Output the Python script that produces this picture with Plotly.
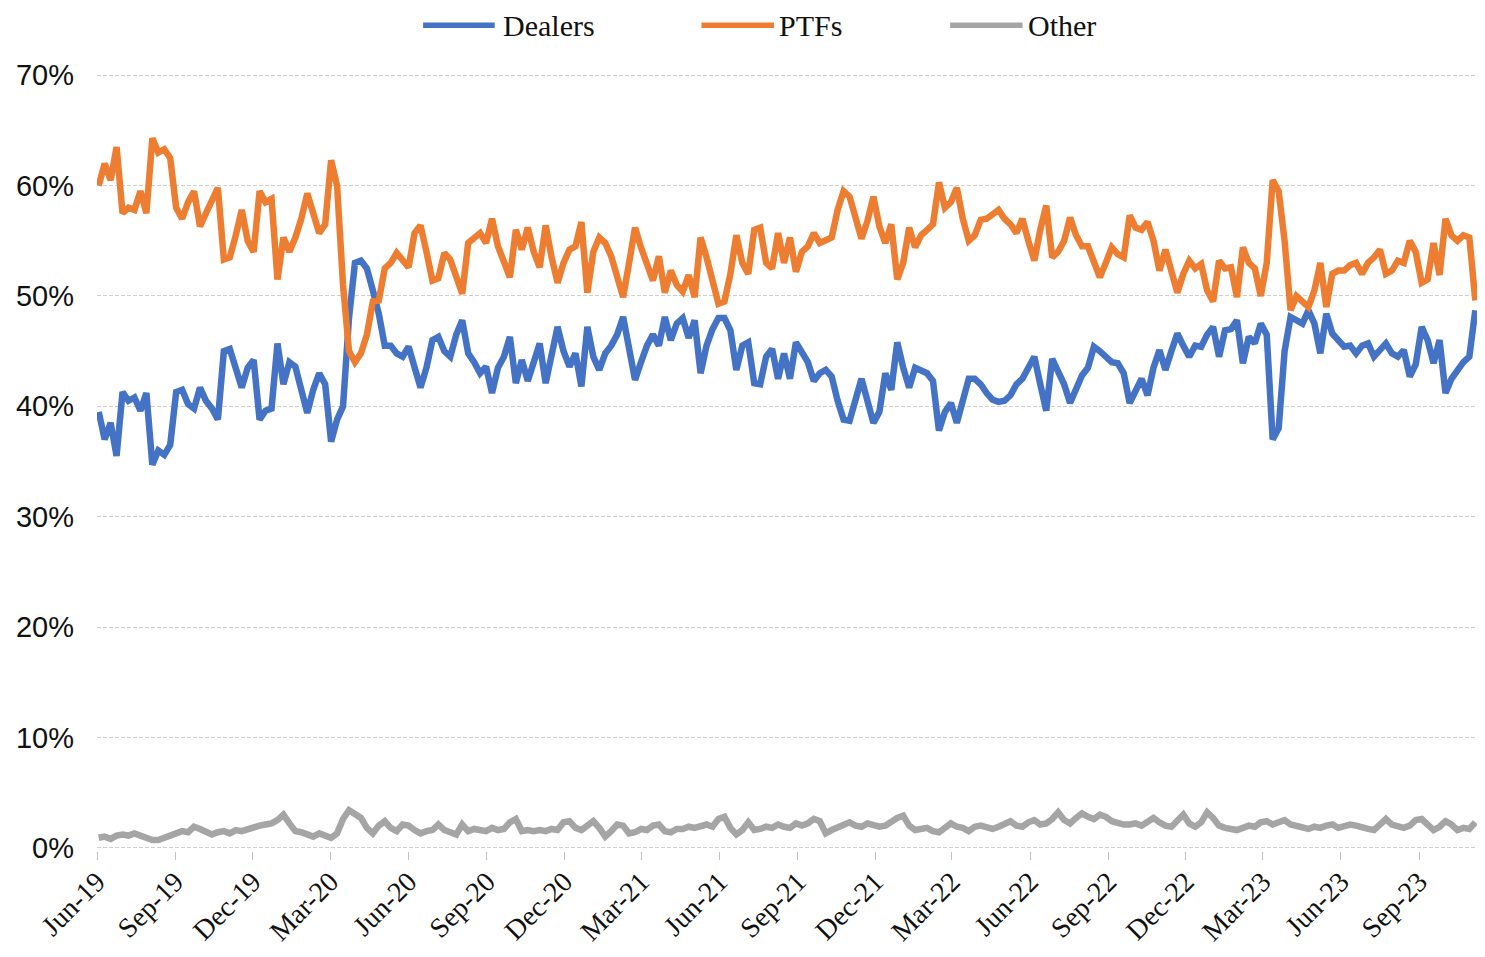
import pandas as pd
import plotly.graph_objects as go

# Weekly observation dates (Mondays) from early June 2019 to early November 2023
dates = pd.date_range("2019-06-03", periods=232, freq="7D")

ptfs = [
    60, 62, 60.5, 63.5, 57.5, 58, 57.8, 59.5, 57.5, 64.3,
    63, 63.3, 62.5, 58, 57, 58.5, 59.5, 56.3, 57.5, 58.5,
    59.8, 53.3, 53.5, 55.5, 57.8, 55, 54, 59.5, 58.5, 58.8,
    51.5, 55.3, 54, 55.3, 57, 59.3, 57.5, 55.7, 56.5, 62.3,
    60, 51, 45, 44, 44.8, 46.5, 49.5, 49.6, 52.5, 53,
    53.9, 53.2, 52.6, 55.7, 56.4, 54, 51.4, 51.6, 53.9, 53.3,
    51.5, 50.2, 54.8, 55.2, 55.7, 54.8, 57, 54.5, 53, 51.7,
    56, 54.2, 56.2, 54, 52.6, 56.4, 53.5, 51.2, 53, 54.2,
    54.5, 56.7, 50.3, 54, 55.3, 54.8, 53.6, 51.5, 49.9, 53,
    56.2, 54.4, 53, 51.4, 53.6, 50.3, 52.3, 51, 50.4, 51.9,
    49.9, 55.3, 53.5, 51.5, 49.3, 49.5, 52, 55.5, 53, 52,
    56, 56.2, 53, 52.5, 55.7, 53, 55.3, 52.2, 54, 54.5,
    55.7, 54.8, 55, 55.3, 57.8, 59.5, 59, 57.1, 55.2, 56.8,
    59, 56.3, 54.8, 56.5, 51.5, 53, 56.2, 54.4, 55.5, 56,
    56.5, 60.3, 58, 58.5, 59.8, 57, 55, 55.5, 56.9, 57,
    57.5, 57.8, 57, 56.5, 55.7, 57, 55, 53.2, 56, 58.2,
    53.5, 54, 55, 57.1, 55.5, 54.5, 54.5, 53, 51.7, 53,
    54.4, 53.8, 53.5, 57.3, 56.2, 56, 56.7, 55, 52.3, 54.2,
    52, 50.3, 52, 53.2, 52.5, 52.9, 50.5, 49.5, 53.2, 52.5,
    52.6, 49.9, 54.4, 53, 52.5, 50, 53, 60.5, 59.5, 55,
    48.7, 50, 49.5, 49, 50.5, 53, 49, 52, 52.3, 52.3,
    52.8, 53, 52, 53, 53.5, 54.2, 52, 52.3, 53.2, 53,
    55, 54, 51.2, 51.5, 54.8, 51.9, 57, 55.5, 55, 55.5,
    55.3, 49.6,
]

dealers = [
    39.5, 37, 38.5, 35.5, 41.3, 40.5, 40.8, 39.6, 41.2, 34.7,
    36, 35.6, 36.5, 41.3, 41.5, 40.2, 39.8, 41.7, 40.5, 39.8,
    38.8, 45, 45.2, 43.5, 41.7, 43.5, 44.2, 38.8, 39.6, 39.8,
    45.7, 42, 44, 43.6, 41.5, 39.4, 41.5, 43, 42, 36.8,
    38.8, 40, 48, 53, 53.2, 52.5, 50.5, 48.4, 45.5, 45.5,
    44.8, 44.5, 45.4, 43.5, 41.7, 43.5, 46, 46.3, 45, 44.5,
    46.5, 47.8, 44.8, 44, 43, 43.6, 41.2, 43.5, 44.5, 46.3,
    42.1, 44.2, 42.3, 44, 45.7, 42.1, 44.5, 47.2, 45, 43.6,
    44.8, 41.8, 47.2, 44.5, 43.3, 44.8, 45.5, 46.5, 48.1, 45,
    42.4, 44, 45.5, 46.5, 45.5, 48.1, 46, 47.5, 48, 46.2,
    47.8, 43, 45.5, 47, 48, 48, 46.9, 43.3, 45.5, 45.8,
    42.1, 42, 44.5, 45.2, 42.5, 44.8, 42.5, 45.8, 44.8, 44,
    42.3, 43, 43.3, 42.7, 40.5, 38.8, 38.7, 40.6, 42.5, 40.5,
    38.5, 39.5, 43, 41.5, 45.8, 43.5, 41.7, 43.5, 43.2, 43,
    42.3, 37.8, 39.5, 40.3, 38.5, 40.5, 42.5, 42.5, 42, 41.2,
    40.6, 40.4, 40.5, 41, 42, 42.5, 43.5, 44.5, 42, 39.6,
    44.3, 43.2, 42, 40.3, 41.5, 42.8, 43.5, 45.4, 45, 44.5,
    44, 43.9, 43, 40.3, 41.5, 42.5, 41, 43.5, 45.1, 43.3,
    45, 46.6, 45.5, 44.5, 45.5, 45.4, 46.5, 47.2, 44.5, 46.9,
    47, 47.8, 43.9, 46.3, 45.7, 47.5, 46.5, 37, 38, 45,
    48.1, 47.8, 47.5, 48.7, 47.5, 44.8, 48.4, 46.6, 46, 45.4,
    45.5, 44.8, 45.5, 45.7, 44.5, 45, 45.7, 44.8, 44.5, 45.1,
    42.7, 43.8, 47.2, 46, 43.9, 46, 41.2, 42.5, 43.3, 44,
    44.5, 48.7,
]

other = [
    0.9, 1.0, 0.8, 1.1, 1.2, 1.1, 1.3, 1.1, 1.0, 0.7,
    0.7, 0.9, 1.0, 1.3, 1.5, 1.4, 1.9, 1.7, 1.4, 1.2,
    1.4, 1.5, 1.3, 1.6, 1.5, 1.7, 1.9, 2.0, 2.1, 2.2,
    2.5, 3.0, 2.2, 1.5, 1.4, 1.2, 1.0, 1.3, 1.1, 0.9,
    1.3, 2.6, 3.4, 3.0, 2.7, 1.8, 1.3, 2.0, 2.4, 1.8,
    1.5, 2.1, 2.0, 1.6, 1.3, 1.5, 1.6, 2.1, 1.6, 1.4,
    1.2, 2.1, 1.5, 1.7, 1.6, 1.5, 1.8, 1.6, 1.7, 2.3,
    2.6, 1.5, 1.6, 1.5, 1.6, 1.5, 1.7, 1.6, 2.3, 2.4,
    1.8, 1.6, 2.0, 2.4, 1.8, 1.0, 1.5, 2.1, 2.0, 1.3,
    1.4, 1.7, 1.6, 2.0, 2.1, 1.5, 1.4, 1.7, 1.7, 1.9,
    1.8, 2.0, 2.1, 1.9, 2.6, 2.8, 1.8, 1.2, 1.6, 2.3,
    1.6, 1.7, 1.9, 1.8, 2.1, 1.9, 1.8, 2.2, 2.0, 2.2,
    2.6, 2.4, 1.3, 1.6, 1.8, 2.0, 2.3, 2.0, 1.9, 2.2,
    2.1, 1.9, 2.0, 2.4, 2.7, 2.9, 2.0, 1.6, 1.7, 1.8,
    1.5, 1.4, 1.8, 2.2, 1.9, 1.8, 1.5, 1.9, 2.0, 1.9,
    1.7, 1.9, 2.2, 2.4, 2.0, 1.9, 2.3, 2.5, 2.1, 2.2,
    2.6, 3.2, 2.5, 2.2, 2.7, 3.1, 2.8, 2.6, 3.0, 2.8,
    2.4, 2.2, 2.1, 2.1, 2.2, 2.0, 2.3, 2.7, 2.3, 2.0,
    1.9, 2.4, 3.0, 2.2, 1.9, 2.3, 3.2, 2.7, 2.0, 1.8,
    1.7, 1.6, 1.8, 2.0, 1.9, 2.3, 2.4, 2.1, 2.3, 2.5,
    2.1, 2.0, 1.9, 1.7, 1.9, 1.8, 2.0, 2.1, 1.8, 1.9,
    2.1, 2.0, 1.8, 1.7, 1.6, 2.2, 2.6, 2.1, 1.9, 1.8,
    2.0, 2.5, 2.6, 2.0, 1.6, 1.9, 2.4, 2.1, 1.6, 1.8,
    1.7, 2.3,
]

series_names = ["Dealers", "PTFs", "Other"]
series_colors = ["#4472C4", "#ED7D31", "#A5A5A5"]

tick_dates = ["2019-06-01", "2019-09-01", "2019-12-01", "2020-03-01", "2020-06-01",
              "2020-09-01", "2020-12-01", "2021-03-01", "2021-06-01", "2021-09-01",
              "2021-12-01", "2022-03-01", "2022-06-01", "2022-09-01", "2022-12-01",
              "2023-03-01", "2023-06-01", "2023-09-01"]
tick_labels = ["Jun-19", "Sep-19", "Dec-19", "Mar-20", "Jun-20", "Sep-20", "Dec-20",
               "Mar-21", "Jun-21", "Sep-21", "Dec-21", "Mar-22", "Jun-22", "Sep-22",
               "Dec-22", "Mar-23", "Jun-23", "Sep-23"]

y_ticks = [0, 10, 20, 30, 40, 50, 60, 70]
y_labels = ["0%", "10%", "20%", "30%", "40%", "50%", "60%", "70%"]

serif = "Liberation Serif, Times New Roman, serif"
sans = "Liberation Sans, Arial, sans-serif"

fig = go.Figure()
for name, vals, col in zip(series_names, [dealers, ptfs, other], series_colors):
    fig.add_trace(go.Scatter(x=dates, y=vals, mode="lines", name=name,
                             line=dict(color=col, width=6.5), showlegend=False))

# Custom legend (long line samples like the original)
leg_y = 1.0599
legend_pos = [(0.2363, 0.2882, 0.2925), (0.4380, 0.4906, 0.4928), (0.6182, 0.6707, 0.6729)]
for (x0, x1, xt), name, col in zip(legend_pos, series_names, series_colors):
    fig.add_shape(type="line", xref="paper", yref="paper", x0=x0, x1=x1,
                  y0=leg_y, y1=leg_y, line=dict(color=col, width=5.5))
    fig.add_annotation(xref="paper", yref="paper", x=xt, y=leg_y, text=name,
                       showarrow=False, xanchor="left", yanchor="middle",
                       font=dict(family=serif, size=30, color="#111111"))

fig.update_layout(
    width=1469, height=941,
    margin=dict(l=89, r=0, t=64, b=98, autoexpand=False),
    plot_bgcolor="white", paper_bgcolor="white",
    xaxis=dict(
        type="date", range=["2019-06-01", "2023-11-08"], automargin=False,
        tickmode="array", tickvals=tick_dates, ticktext=tick_labels,
        tickangle=-45, tickfont=dict(family=serif, size=28, color="#111111"),
        showgrid=False, zeroline=False, showline=False,
        ticks="outside", ticklen=8, tickcolor="#c0c0c0", tickwidth=1,
        ticklabelstandoff=-6,
    ),
    yaxis=dict(
        range=[-0.3, 70.3], tickmode="array", tickvals=y_ticks, ticktext=y_labels,
        automargin=False,
        tickfont=dict(family=sans, size=29, color="#111111"),
        showgrid=True, gridcolor="#cfcfcf", griddash="4px,2px", gridwidth=1.2,
        zeroline=False, showline=False, ticks="", ticklabelstandoff=22,
    ),
)

fig.write_html("out.html")
